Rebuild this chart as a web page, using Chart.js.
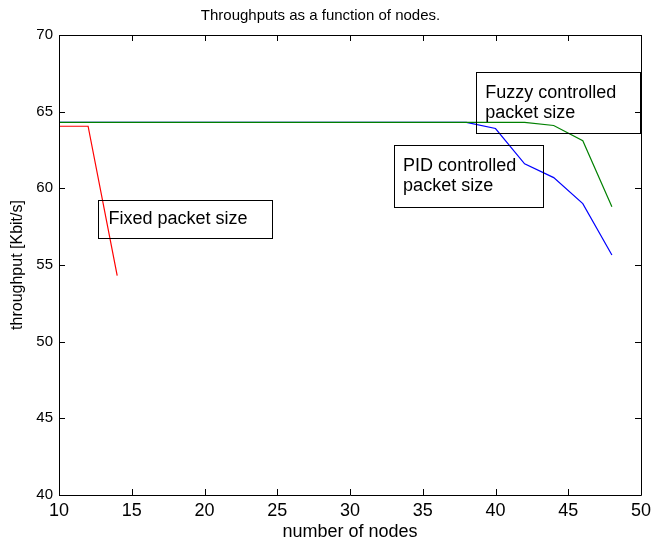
<!DOCTYPE html>
<html>
<head>
<meta charset="utf-8">
<script src="https://cdn.jsdelivr.net/npm/chart.js@4/dist/chart.umd.min.js"></script>
<style>
  html, body { margin: 0; padding: 0; background: #fff; }
  #wrap { width: 654px; height: 545px; }
</style>
</head>
<body>
<div id="wrap"><canvas id="chart"></canvas></div>
<script>
// number of nodes for each series
const fixedNodes = [10, 12, 14];
const fixedThroughput = [64.05, 64.05, 54.3];

const pidNodes = [10, 12, 14, 16, 18, 20, 22, 24, 26, 28, 30, 32, 34, 36, 38, 40, 42, 44, 46, 48];
const pidThroughput = [64.3, 64.3, 64.3, 64.3, 64.3, 64.3, 64.3, 64.3, 64.3, 64.3, 64.3, 64.3, 64.3, 64.3, 64.3, 63.9, 61.6, 60.7, 59.0, 55.65];

const fuzzyNodes = [10, 12, 14, 16, 18, 20, 22, 24, 26, 28, 30, 32, 34, 36, 38, 40, 42, 44, 46, 48];
const fuzzyThroughput = [64.3, 64.3, 64.3, 64.3, 64.3, 64.3, 64.3, 64.3, 64.3, 64.3, 64.3, 64.3, 64.3, 64.3, 64.3, 64.3, 64.3, 64.1, 63.1, 58.8];

const xTicks = [10, 15, 20, 25, 30, 35, 40, 45, 50];
const yTicks = [40, 45, 50, 55, 60, 65, 70];

const FONT = '"Liberation Sans", Arial, sans-serif';

function toPoints(xs, ys) {
  return xs.map((x, i) => ({ x: x, y: ys[i] }));
}

// matlab style box with inward ticks on all four sides
const boxAxes = {
  id: 'boxAxes',
  afterDraw(chart) {
    const c = chart.ctx, a = chart.chartArea;
    const xs = chart.scales.x, ys = chart.scales.y;
    const len = 6;
    c.save();
    c.strokeStyle = '#000';
    c.lineWidth = 1;
    c.beginPath();
    c.rect(Math.round(a.left) + 0.5, Math.round(a.top) + 0.5, Math.round(a.right - a.left), Math.round(a.bottom - a.top));
    xTicks.forEach(v => {
      const px = Math.round(xs.getPixelForValue(v)) + 0.5;
      c.moveTo(px, a.bottom); c.lineTo(px, a.bottom - len);
      c.moveTo(px, a.top); c.lineTo(px, a.top + len);
    });
    yTicks.forEach(v => {
      const py = Math.round(ys.getPixelForValue(v)) + 0.5;
      c.moveTo(a.left, py); c.lineTo(a.left + len, py);
      c.moveTo(a.right, py); c.lineTo(a.right - len, py);
    });
    c.stroke();
    c.restore();
  }
};

// text boxes placed in data coordinates
const labelBoxes = [
  { x0: 12.7, x1: 24.66, y0: 59.24, y1: 56.78, tx: 13.4, lines: ['Fixed packet size'] },
  { x0: 33.02, x1: 43.29, y0: 62.81, y1: 58.81, tx: 33.65, lines: ['PID controlled', 'packet size'] },
  { x0: 38.66, x1: 49.93, y0: 67.61, y1: 63.63, tx: 39.3, lines: ['Fuzzy controlled', 'packet size'] }
];

const textBoxes = {
  id: 'textBoxes',
  afterDatasetsDraw(chart) {
    const c = chart.ctx;
    const xs = chart.scales.x, ys = chart.scales.y;
    c.save();
    c.strokeStyle = '#000';
    c.lineWidth = 1;
    c.fillStyle = '#000';
    c.font = '18px ' + FONT;
    c.textBaseline = 'middle';
    labelBoxes.forEach(b => {
      const l = Math.round(xs.getPixelForValue(b.x0)) + 0.5;
      const r = Math.round(xs.getPixelForValue(b.x1)) + 0.5;
      const t = Math.round(ys.getPixelForValue(b.y0)) + 0.5;
      const bt = Math.round(ys.getPixelForValue(b.y1)) + 0.5;
      c.strokeRect(l, t, r - l, bt - t);
      const tx = xs.getPixelForValue(b.tx);
      const mid = (t + bt) / 2;
      const lh = 20;
      const start = mid - (b.lines.length - 1) * lh / 2;
      b.lines.forEach((s, i) => c.fillText(s, tx, start + i * lh));
    });
    c.restore();
  }
};

new Chart(document.getElementById('chart'), {
  type: 'line',
  data: {
    // first dataset is drawn on top
    datasets: [
      { label: 'Fuzzy controlled packet size', data: toPoints(fuzzyNodes, fuzzyThroughput), borderColor: '#008000' },
      { label: 'PID controlled packet size', data: toPoints(pidNodes, pidThroughput), borderColor: '#0000ff' },
      { label: 'Fixed packet size', data: toPoints(fixedNodes, fixedThroughput), borderColor: '#ff0000' }
    ]
  },
  options: {
    responsive: true,
    maintainAspectRatio: false,
    animation: false,
    layout: { padding: { left: 0, right: 13, top: 0, bottom: 0 } },
    elements: {
      line: { borderWidth: 1.2, tension: 0, fill: false },
      point: { radius: 0, hoverRadius: 0 }
    },
    plugins: {
      legend: { display: false },
      tooltip: { enabled: false },
      title: {
        display: true,
        text: 'Throughputs as a function of nodes.',
        color: '#000',
        font: { family: FONT, size: 15, weight: 'normal', lineHeight: 1.2 },
        padding: { top: 7, bottom: 10 }
      }
    },
    scales: {
      x: {
        type: 'linear',
        min: 10, max: 50,
        afterFit(s) { s.height = 50; s.paddingLeft = 0; s.paddingRight = 0; },
        afterBuildTicks(s) { s.ticks = xTicks.map(v => ({ value: v })); },
        grid: { display: false, drawTicks: false },
        border: { display: false },
        ticks: { color: '#000', padding: 5, maxRotation: 0, font: { family: FONT, size: 18 } },
        title: {
          display: true, text: 'number of nodes', color: '#000',
          font: { family: FONT, size: 18 }, padding: { top: 0, bottom: 2 }
        }
      },
      y: {
        min: 40, max: 70,
        afterFit(s) { s.width = 59; s.paddingTop = 0; s.paddingBottom = 0; },
        afterBuildTicks(s) { s.ticks = yTicks.map(v => ({ value: v })); },
        grid: { display: false, drawTicks: false },
        border: { display: false },
        ticks: { color: '#000', padding: 6, font: { family: FONT, size: 15 } },
        title: {
          display: true, text: 'throughput [Kbit/s]', color: '#000',
          font: { family: FONT, size: 16 }, padding: { top: 8, bottom: 0 }
        }
      }
    }
  },
  plugins: [boxAxes, textBoxes]
});
</script>
</body>
</html>
